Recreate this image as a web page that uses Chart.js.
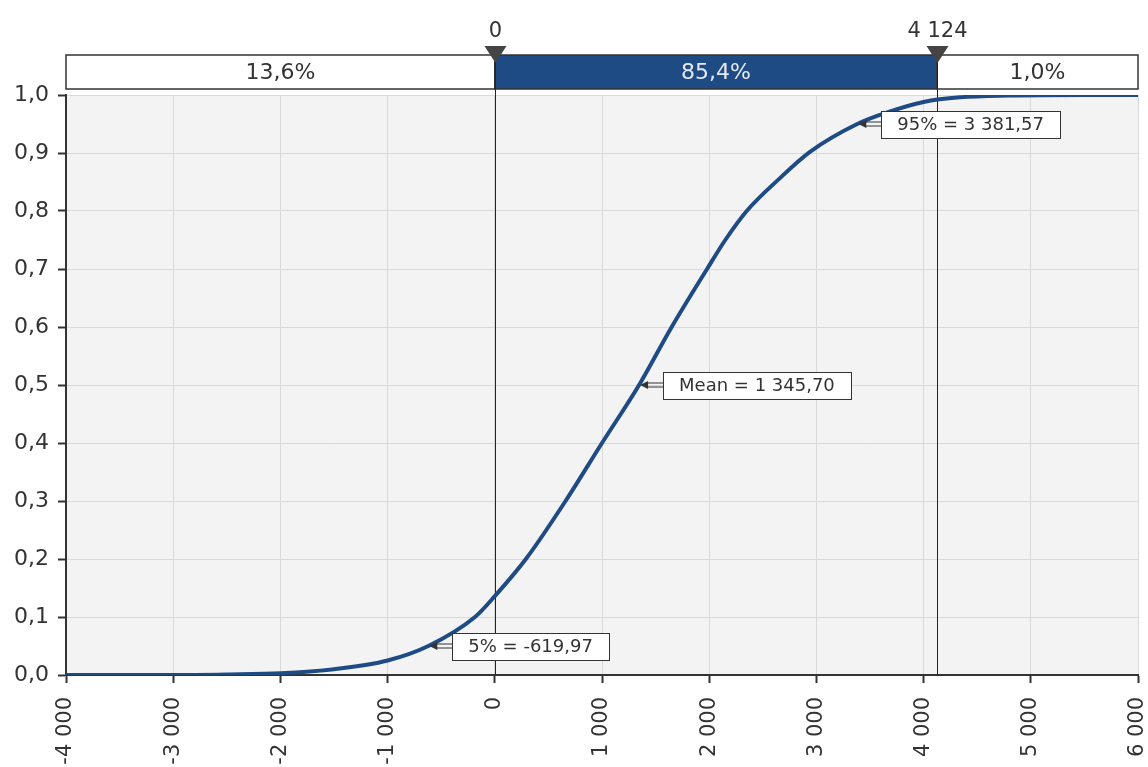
<!DOCTYPE html>
<html lang="en">
<head>
  <meta charset="UTF-8">
  <title>Cumulative distribution</title>
  <script src="https://cdn.jsdelivr.net/npm/chart.js"></script>
  <style>
    html, body { margin: 0; padding: 0; background: #fff; }
    #wrap { width: 1148px; height: 767px; }
  </style>
</head>
<body>
  <div id="wrap"><canvas id="cdfChart"></canvas></div>

  <script>
    // curve values
    const xValues = [-4000, -3000, -2500, -2000, -1500, -1000, -620, -185, 0, 290, 660, 1000, 1346, 1650, 1980, 2150, 2350, 2650, 2940, 3381, 3660, 4000, 4340, 4800, 5500, 6000];
    const cdfValues = [0, 0, 0.001, 0.003, 0.01, 0.025, 0.05, 0.10, 0.136, 0.20, 0.30, 0.40, 0.50, 0.60, 0.70, 0.75, 0.80, 0.855, 0.902, 0.95, 0.97, 0.988, 0.996, 0.999, 1.0, 1.0];

    // top band
    const bandEdges = [-4000, 0, 4124, 6000];
    const bandLabels = ['13,6%', '85,4%', '1,0%'];
    const markerValues = [0, 4124];
    const markerLabels = ['0', '4 124'];

    // callouts on the curve
    const noteX = [-619.97, 1345.70, 3381.57];
    const noteY = [0.05, 0.50, 0.95];
    const noteLabels = ['5% = -619,97', 'Mean = 1 345,70', '95% = 3 381,57'];

    const font = 'DejaVu Sans';
    const blue = '#1f4b85';

    const overlay = {
      id: 'overlay',
      beforeDraw(chart) {
        const a = chart.chartArea, c = chart.ctx;
        c.save();
        c.fillStyle = '#f3f3f3';
        c.fillRect(a.left, a.top, a.right - a.left, a.bottom - a.top);
        c.restore();
      },
      beforeDatasetsDraw(chart) {
        const a = chart.chartArea, c = chart.ctx, xs = chart.scales.x;
        c.save();
        c.strokeStyle = '#222';
        c.lineWidth = 1;
        markerValues.forEach(v => {
          const px = Math.round(xs.getPixelForValue(v)) + 0.5;
          c.beginPath();
          c.moveTo(px, a.top - 8);
          c.lineTo(px, a.bottom);
          c.stroke();
        });
        c.restore();
      },
      afterDraw(chart) {
        const a = chart.chartArea, c = chart.ctx, xs = chart.scales.x, ys = chart.scales.y;
        c.save();
        // band
        const top = a.top - 40, bot = a.top - 6;
        for (let i = 0; i < bandLabels.length; i++) {
          const l = xs.getPixelForValue(bandEdges[i]);
          const r = xs.getPixelForValue(bandEdges[i + 1]);
          c.fillStyle = i === 1 ? blue : '#fff';
          c.fillRect(l, top, r - l, bot - top);
          c.strokeStyle = '#333';
          c.lineWidth = 1.5;
          c.strokeRect(l, top, r - l, bot - top);
          c.fillStyle = i === 1 ? '#e4e9f2' : '#333';
          c.font = '22px "' + font + '"';
          c.textAlign = 'center';
          c.textBaseline = 'middle';
          c.fillText(bandLabels[i], (l + r) / 2, (top + bot) / 2 + 1);
        }
        // markers
        markerValues.forEach((v, i) => {
          const px = Math.round(xs.getPixelForValue(v)) + 0.5;
          c.strokeStyle = '#222';
          c.lineWidth = 1;
          c.beginPath();
          c.moveTo(px, top);
          c.lineTo(px, bot);
          c.stroke();
          c.fillStyle = '#444';
          c.beginPath();
          c.moveTo(px - 11, top - 9);
          c.lineTo(px + 11, top - 9);
          c.lineTo(px, top + 8);
          c.closePath();
          c.fill();
          c.fillStyle = '#333';
          c.font = '21px "' + font + '"';
          c.textAlign = 'center';
          c.textBaseline = 'middle';
          c.fillText(markerLabels[i], px, top - 23);
        });
        // callouts
        c.font = '18px "' + font + '"';
        noteLabels.forEach((txt, i) => {
          const px = xs.getPixelForValue(noteX[i]);
          const py = ys.getPixelForValue(noteY[i]);
          const w = c.measureText(txt).width + 32;
          const bx = px + 24, by = py - 13, h = 27;
          // hollow arrow
          c.strokeStyle = '#333';
          c.lineWidth = 1;
          c.beginPath();
          c.moveTo(px + 8, py - 2); c.lineTo(bx, py - 2);
          c.moveTo(px + 8, py + 2); c.lineTo(bx, py + 2);
          c.stroke();
          c.fillStyle = '#333';
          c.beginPath();
          c.moveTo(px + 1, py);
          c.lineTo(px + 9, py - 4);
          c.lineTo(px + 9, py + 4);
          c.closePath();
          c.fill();
          c.fillStyle = '#fff';
          c.fillRect(bx, by, w, h);
          c.strokeRect(Math.round(bx) + 0.5, Math.round(by) + 0.5, Math.round(w), h);
          c.fillStyle = '#333';
          c.textAlign = 'center';
          c.textBaseline = 'middle';
          c.fillText(txt, bx + w / 2, py + 1);
        });
        c.restore();
      }
    };

    const ctx = document.getElementById('cdfChart').getContext('2d');
    new Chart(ctx, {
      type: 'line',
      data: {
        datasets: [{
          data: xValues.map((x, i) => ({ x: x, y: cdfValues[i] })),
          borderColor: blue,
          borderWidth: 4,
          pointRadius: 0,
          cubicInterpolationMode: 'monotone',
          fill: false
        }]
      },
      options: {
        responsive: true,
        maintainAspectRatio: false,
        animation: false,
        layout: { padding: { top: 95, right: 10, left: 0, bottom: 0 } },
        plugins: { legend: { display: false }, tooltip: { enabled: false } },
        scales: {
          x: {
            type: 'linear',
            min: -4000,
            max: 6000,
            afterFit(s) { s.height = 92; s.paddingLeft = 0; s.paddingRight = 0; },
            border: { color: '#333', width: 2 },
            grid: { color: '#d9d9d9', tickColor: '#333', tickLength: 8, tickWidth: 2 },
            ticks: {
              stepSize: 1000,
              minRotation: 90,
              maxRotation: 90,
              padding: 14,
              color: '#333',
              font: { family: font, size: 21 },
              callback: v => (v < 0 ? '-' : '') + (Math.abs(v) >= 1000 ? Math.floor(Math.abs(v) / 1000) + ' 000' : String(Math.abs(v)))
            }
          },
          y: {
            min: 0,
            max: 1,
            afterFit(s) { s.width = 66; s.paddingTop = 0; s.paddingBottom = 0; },
            border: { color: '#333', width: 2 },
            grid: { color: '#d9d9d9', tickColor: '#333', tickLength: 8, tickWidth: 2 },
            ticks: {
              stepSize: 0.1,
              padding: 9,
              color: '#333',
              font: { family: font, size: 22 },
              callback: v => v.toFixed(1).replace('.', ',')
            }
          }
        }
      },
      plugins: [overlay]
    });
  </script>
</body>
</html>
